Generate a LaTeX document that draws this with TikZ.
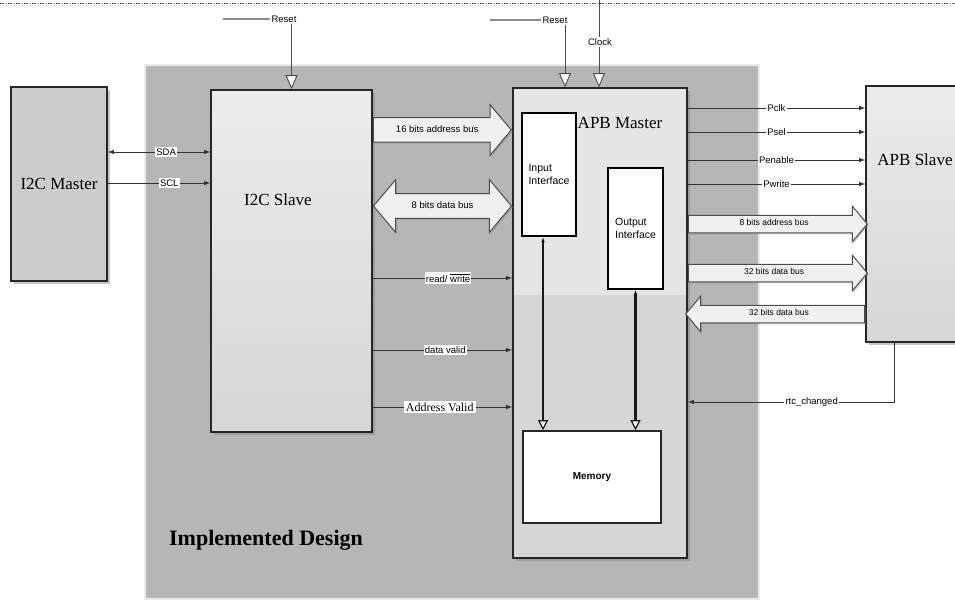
\documentclass[tikz,border=0pt]{standalone}
\usepackage{fontspec}
\setmainfont{Liberation Serif}
\setsansfont{Liberation Sans}
\usetikzlibrary{arrows.meta,shapes.arrows,shadows}
\definecolor{regiongray}{RGB}{182,182,182}
\definecolor{masterfill}{RGB}{205,205,205}
\definecolor{slavetop}{RGB}{236,236,236}
\definecolor{slavebot}{RGB}{214,214,214}
\definecolor{mtop}{RGB}{229,229,229}
\definecolor{mbot}{RGB}{214,214,214}
\definecolor{busfill}{RGB}{240,240,240}
\definecolor{dashblue}{RGB}{95,105,135}

\begin{document}
\begin{tikzpicture}[x=1pt, y=-1pt,
    title/.style={font=\fontsize{17}{20}\selectfont},
    lbl/.style={font=\sffamily\fontsize{9.5}{11}\selectfont, fill=white, inner sep=1.2pt},
    sig/.style={draw=black!80, line width=0.9pt},
    rstline/.style={draw=black!70, line width=0.9pt, -{Triangle[length=14pt, width=12pt, fill=white]}},
    box/.style={draw=black!85, line width=1.6pt},
    shade/.style={drop shadow={shadow xshift=3pt, shadow yshift=-3pt, opacity=.45}},
    bus/.style={single arrow, draw=black!70, fill=busfill, line width=1pt,
      font=\sffamily\fontsize{9.5}{10}\selectfont, text height=6pt, text depth=1.5pt,
      inner ysep=8pt, inner xsep=0pt, single arrow head extend=13pt, single arrow tip angle=100,
      drop shadow={shadow xshift=1.5pt, shadow yshift=-1.5pt, opacity=.35}},
    smallbus/.style={bus, font=\sffamily\fontsize{8.5}{9}\selectfont, text height=5pt,
      inner ysep=5pt, single arrow head extend=9pt}]
  \useasboundingbox (0,0) rectangle (955,604);
  \clip (0,0) rectangle (955,604);
  \draw[dashblue, line width=0.5pt, dash pattern=on 4pt off 1.5pt on 1pt off 1.5pt] (0,3) -- (955,3);

  \node[draw=white!85!gray, line width=1.5pt, fill=regiongray, minimum width=614, minimum height=534] (impl) at (452,332) {};
  \node[font=\bfseries\fontsize{22}{26}\selectfont] (impltxt) at (266,540) {Implemented Design};

  \node[box, fill=masterfill, minimum width=96, minimum height=194, shade, title] (i2cm) at (59,184) {I2C Master};
  \node[box, top color=slavetop, bottom color=slavebot, minimum width=161, minimum height=342, shade] (slave) at (291.5,261) {};
  \node[title] (slavetxt) at (278,200) {I2C Slave};

  \node[box, fill=mtop, minimum width=174, minimum height=470, shade,
    path picture={\fill[mbot] ([yshift=28pt]path picture bounding box.east) rectangle (path picture bounding box.south west);}] (master) at (600,323) {};
  \node[title] (mastertxt) at (620,123) {APB Master};
  \node[draw, line width=2.4pt, fill=white, minimum width=54, minimum height=123, inner sep=1pt, align=left,
    font=\sffamily\fontsize{10.5}{13}\selectfont] (iin) at (549,174.5) {Input\\Interface};
  \node[draw, line width=1.6pt, fill=white, minimum width=55, minimum height=121, inner sep=1pt, align=left,
    font=\sffamily\fontsize{10.5}{13}\selectfont] (iout) at (635.5,228.5) {Output\\Interface};
  \node[box, fill=white, minimum width=138, minimum height=92, font=\sffamily\bfseries\fontsize{10}{12}\selectfont] (mem) at (592,477) {Memory};

  \node[box, top color=slavetop, bottom color=slavebot, minimum width=134, minimum height=256, shade] (apbs) at (933,214) {};
  \node[title] (apbstxt) at (915,160) {APB Slave};

  \node[lbl] (rst1) at (284,19) {Reset};
  \coordinate (rst1w) at (223,19);
  \draw[black!45, line width=1.4pt] (rst1w) -- (rst1);
  \draw[rstline] (rst1.south -| slave.north) -- (slave.north);
  \node[lbl] (rst2) at (555,20) {Reset};
  \coordinate (rst2w) at (490,20);
  \coordinate (mrst) at ([xshift=-35pt]master.north);
  \draw[black!45, line width=1.4pt] (rst2w) -- (rst2);
  \draw[rstline] (rst2.south -| mrst) -- (mrst);
  \coordinate (clktop) at (599,0);
  \draw[rstline] (clktop) -- (master.north -| clktop);
  \node[lbl] (clk) at (600,42) {Clock};

  \draw[sig, {Latex[length=6pt]}-{Latex[length=6pt]}] (i2cm.east |- 0,152) -- (slave.west |- 0,152) node[lbl, pos=.57] (sda) {SDA};
  \draw[sig, -{Latex[length=6pt]}] (i2cm.east |- 0,183) -- (slave.west |- 0,183) node[lbl, pos=.6] (scl) {SCL};

  \node[bus, anchor=tail, minimum height=138] (abus) at (slave.east |- 0,130) {16 bits address bus};
  \node[bus, double arrow, double arrow head extend=14pt, double arrow tip angle=100, minimum height=138] (dbus) at (442.5,206) {8 bits data bus};

  \draw[sig, -{Latex[length=6pt]}] (slave.east |- 0,278) -- (master.west |- 0,278) node[lbl, pos=.54] (rw) {read/ \ensuremath{\overline{\mbox{write}}}};
  \draw[sig, -{Latex[length=6pt]}] (slave.east |- 0,350) -- (master.west |- 0,350) node[lbl, pos=.52] (dv) {data valid};
  \draw[sig, -{Latex[length=6pt]}] (slave.east |- 0,407) -- (master.west |- 0,407) node[fill=white, inner sep=2pt, font=\fontsize{12}{14}\selectfont, pos=.48] (av) {Address Valid};

  \draw[black!90, line width=2.2pt, {Latex[length=5pt]}-{Triangle[length=10pt, width=10pt, fill=white, line width=1.2pt]}] ([xshift=-6pt]iin.south) -- ([xshift=-6pt]iin.south |- mem.north);
  \draw[black!90, line width=2.2pt, {Latex[length=5pt]}-{Triangle[length=10pt, width=10pt, fill=white, line width=1.2pt]}] (iout.south) -- (iout.south |- mem.north);

  \draw[sig, -{Latex[length=6pt]}] (master.east |- 0,108) -- (apbs.west |- 0,108) node[lbl, pos=.5] (pclk) {Pclk};
  \draw[sig, -{Latex[length=6pt]}] (master.east |- 0,132) -- (apbs.west |- 0,132) node[lbl, pos=.5] (psel) {Psel};
  \draw[sig, -{Latex[length=6pt]}] (master.east |- 0,160) -- (apbs.west |- 0,160) node[lbl, pos=.5] (pen) {Penable};
  \draw[sig, -{Latex[length=6pt]}] (master.east |- 0,184) -- (apbs.west |- 0,184) node[lbl, pos=.5] (pwr) {Pwrite};

  \node[smallbus, anchor=tail, minimum height=179] (abus2) at (master.east |- 0,224) {8 bits address bus};
  \node[smallbus, anchor=tail, minimum height=179] (dbus2) at (master.east |- 0,273) {32 bits data bus};
  \node[smallbus, shape border rotate=180, anchor=tail, minimum height=179] (dbus3) at (apbs.west |- 0,314) {32 bits data bus};

  \draw[sig, -{Latex[length=6pt]}] ([xshift=29pt]apbs.south west) |- (master.east |- 0,402) node[lbl, pos=.7] (rtc) {rtc\_changed};
\end{tikzpicture}
\end{document}
